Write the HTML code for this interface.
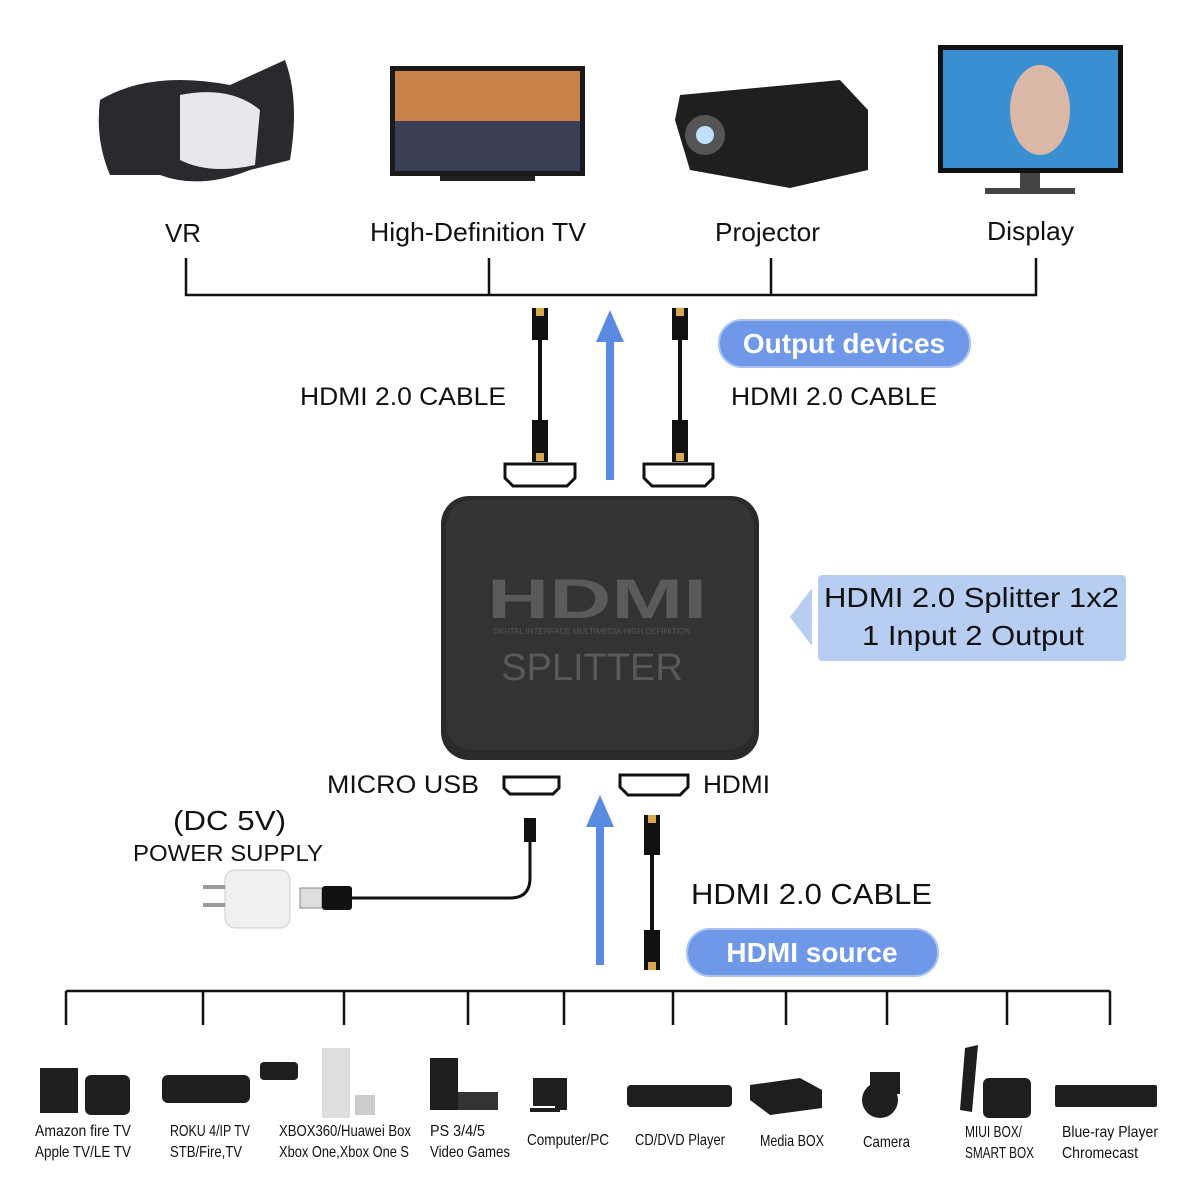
<!DOCTYPE html>
<html><head><meta charset="utf-8"><style>
html,body{margin:0;padding:0;background:#fff}
svg{display:block}
text{font-family:"Liberation Sans",sans-serif}
.c{font-family:"Liberation Sans",sans-serif;font-size:16px;fill:#111}
</style></head><body>
<svg width="1200" height="1200" viewBox="0 0 1200 1200" xmlns="http://www.w3.org/2000/svg">
<rect width="1200" height="1200" fill="#fff"/>
<g>
 <path d="M100 100 Q150 70 230 85 L285 60 Q300 100 290 160 L250 170 Q200 190 160 175 L110 175 Q95 140 100 100Z" fill="#2a2a2e"/>
 <path d="M180 95 Q230 85 260 110 L255 165 Q210 175 180 160Z" fill="#e8e8ec"/>
 <rect x="390" y="66" width="195" height="110" fill="#1a1a1a"/>
 <rect x="395" y="71" width="185" height="100" fill="#c9824a"/>
 <rect x="395" y="121" width="185" height="50" fill="#3b3f55"/>
 <rect x="440" y="176" width="95" height="5" fill="#222"/>
 <path d="M680 95 L840 80 L868 110 L868 170 L790 188 L690 170 L675 120Z" fill="#1f1f1f"/>
 <circle cx="705" cy="135" r="20" fill="#555"/><circle cx="705" cy="135" r="9" fill="#bfe0ff"/>
 <rect x="938" y="45" width="185" height="128" fill="#111"/>
 <rect x="943" y="50" width="175" height="118" fill="#3a8fd0"/>
 <ellipse cx="1040" cy="110" rx="30" ry="45" fill="#d9b8a8"/>
 <rect x="1020" y="173" width="20" height="15" fill="#444"/><rect x="985" y="188" width="90" height="6" fill="#444"/>
</g>
<g font-size="26" fill="#111">
 <text x="165" y="242" textLength="36" lengthAdjust="spacingAndGlyphs">VR</text>
 <text x="370" y="241" textLength="216" lengthAdjust="spacingAndGlyphs">High-Definition TV</text>
 <text x="715" y="241" textLength="105" lengthAdjust="spacingAndGlyphs">Projector</text>
 <text x="987" y="240" textLength="87" lengthAdjust="spacingAndGlyphs">Display</text>
</g>
<g stroke="#111" stroke-width="2.5" fill="none">
 <path d="M186 258 V295 H1036 V258 M489 258 V295 M771 258 V295"/>
 <path d="M66 991 H1110 M66 991 V1025 M203 991 V1025 M344 991 V1025 M468 991 V1025 M564 991 V1025 M673 991 V1025 M786 991 V1025 M887 991 V1025 M1007 991 V1025 M1110 991 V1025"/>
</g>
<g fill="#5b8be0">
 <rect x="606" y="340" width="8" height="140"/><path d="M596 342 L610 310 L624 342Z"/>
 <rect x="596" y="825" width="8" height="140"/><path d="M586 827 L600 795 L614 827Z"/>
</g>
<rect x="719" y="320" width="251" height="47" rx="23" fill="#6f98e8" stroke="#a9c2f2" stroke-width="2"/>
<text x="844" y="353" font-size="28" font-weight="bold" fill="#fff" text-anchor="middle">Output devices</text>
<rect x="687" y="929" width="251" height="47" rx="23" fill="#6f98e8" stroke="#a9c2f2" stroke-width="2"/>
<text x="812" y="962" font-size="28" font-weight="bold" fill="#fff" text-anchor="middle">HDMI source</text>
<path d="M790 617 L812 588 L812 646Z" fill="#b8cdf2"/>
<rect x="818" y="575" width="308" height="86" rx="4" fill="#b8cdf2"/>
<text x="824" y="607" font-size="28" fill="#111" textLength="295" lengthAdjust="spacingAndGlyphs">HDMI 2.0 Splitter 1x2</text>
<text x="862" y="645" font-size="28" fill="#111" textLength="222" lengthAdjust="spacingAndGlyphs">1 Input 2 Output</text>
<g font-size="25" fill="#111">
 <text x="300" y="405" textLength="206" lengthAdjust="spacingAndGlyphs">HDMI 2.0 CABLE</text>
 <text x="731" y="405" textLength="206" lengthAdjust="spacingAndGlyphs">HDMI 2.0 CABLE</text>
 <text x="691" y="904" font-size="29" textLength="241" lengthAdjust="spacingAndGlyphs">HDMI 2.0 CABLE</text>
 <text x="327" y="793" textLength="152" lengthAdjust="spacingAndGlyphs">MICRO USB</text>
 <text x="703" y="793" textLength="67" lengthAdjust="spacingAndGlyphs">HDMI</text>
 <text x="173" y="830" font-size="28" textLength="113" lengthAdjust="spacingAndGlyphs">(DC 5V)</text>
 <text x="133" y="861" font-size="23" textLength="190" lengthAdjust="spacingAndGlyphs">POWER SUPPLY</text>
</g>
<g>
 <rect x="532" y="308" width="16" height="32" fill="#111"/><rect x="536" y="308" width="8" height="8" fill="#d8a84a"/>
 <line x1="540" y1="340" x2="540" y2="420" stroke="#111" stroke-width="4"/>
 <rect x="532" y="420" width="16" height="42" fill="#111"/><rect x="536" y="453" width="8" height="8" fill="#d8a84a"/>
 <rect x="672" y="308" width="16" height="32" fill="#111"/><rect x="676" y="308" width="8" height="8" fill="#d8a84a"/>
 <line x1="680" y1="340" x2="680" y2="420" stroke="#111" stroke-width="4"/>
 <rect x="672" y="420" width="16" height="42" fill="#111"/><rect x="676" y="453" width="8" height="8" fill="#d8a84a"/>
 <rect x="644" y="815" width="16" height="40" fill="#111"/><rect x="648" y="815" width="8" height="8" fill="#d8a84a"/>
 <line x1="652" y1="855" x2="652" y2="930" stroke="#111" stroke-width="4"/>
 <rect x="644" y="930" width="16" height="40" fill="#111"/><rect x="648" y="962" width="8" height="8" fill="#d8a84a"/>
</g>
<g fill="#fff" stroke="#111" stroke-width="3">
 <path d="M505 464 H575 V478 L567 486 H513 L505 478Z"/>
 <path d="M644 464 H713 V478 L705 486 H652 L644 478Z"/>
 <path d="M504 777 H559 V788 L553 794 H510 L504 788Z"/>
 <path d="M620 775 H688 V787 L680 795 H628 L620 787Z"/>
</g>
<rect x="441" y="496" width="318" height="264" rx="28" fill="#2a2a2a"/>
<rect x="446" y="500" width="308" height="250" rx="26" fill="#333"/>
<text x="597" y="618" font-size="56" font-weight="bold" fill="#5a5a5a" text-anchor="middle" textLength="220" lengthAdjust="spacingAndGlyphs">HDMI</text>
<text x="592" y="634" font-size="8" fill="#555" text-anchor="middle">DIGITAL INTERFACE MULTIMEDIA HIGH DEFINITION</text>
<text x="592" y="680" font-size="38" fill="#595959" text-anchor="middle">SPLITTER</text>
<rect x="225" y="870" width="65" height="58" rx="10" fill="#f0f0f0" stroke="#ccc"/>
<rect x="203" y="885" width="22" height="4" fill="#999"/><rect x="203" y="903" width="22" height="4" fill="#999"/>
<rect x="300" y="888" width="22" height="20" fill="#ddd" stroke="#888"/>
<rect x="322" y="886" width="30" height="24" rx="3" fill="#111"/>
<path d="M352 898 H510 Q530 898 530 878 V840" stroke="#111" stroke-width="3" fill="none"/>
<rect x="524" y="818" width="12" height="24" fill="#111"/>
<g fill="#1e1e1e">
 <rect x="40" y="1068" width="38" height="45"/><rect x="85" y="1075" width="45" height="40" rx="6"/>
 <rect x="162" y="1075" width="88" height="28" rx="6"/><rect x="260" y="1062" width="38" height="18" rx="4"/>
 <rect x="322" y="1048" width="28" height="70" fill="#ddd"/><rect x="355" y="1095" width="20" height="20" fill="#ccc"/>
 <rect x="430" y="1058" width="28" height="52"/><rect x="458" y="1092" width="40" height="18" fill="#333"/>
 <rect x="533" y="1078" width="22" height="28"/><rect x="555" y="1078" width="12" height="32"/><rect x="530" y="1108" width="30" height="4"/>
 <rect x="627" y="1085" width="105" height="22" rx="4"/>
 <path d="M750 1085 L800 1078 L822 1090 L822 1108 L770 1115 L750 1100Z"/>
 <circle cx="880" cy="1100" r="18"/><rect x="870" y="1072" width="30" height="22"/>
 <path d="M965 1048 L978 1045 L972 1112 L960 1110Z"/><rect x="983" y="1078" width="48" height="40" rx="6"/>
 <rect x="1055" y="1085" width="102" height="22" rx="2"/>
</g>
<g class="c" lengthAdjust="spacingAndGlyphs">
 <text x="35" y="1136" textLength="96" lengthAdjust="spacingAndGlyphs">Amazon fire TV</text><text x="35" y="1157" textLength="96" lengthAdjust="spacingAndGlyphs">Apple TV/LE TV</text>
 <text x="170" y="1136" textLength="80" lengthAdjust="spacingAndGlyphs">ROKU 4/IP TV</text><text x="170" y="1157" textLength="72" lengthAdjust="spacingAndGlyphs">STB/Fire,TV</text>
 <text x="279" y="1136" textLength="132" lengthAdjust="spacingAndGlyphs">XBOX360/Huawei Box</text><text x="279" y="1157" textLength="130" lengthAdjust="spacingAndGlyphs">Xbox One,Xbox One S</text>
 <text x="430" y="1136" textLength="55" lengthAdjust="spacingAndGlyphs">PS 3/4/5</text><text x="430" y="1157" textLength="80" lengthAdjust="spacingAndGlyphs">Video Games</text>
 <text x="527" y="1145" textLength="82" lengthAdjust="spacingAndGlyphs">Computer/PC</text>
 <text x="635" y="1145" textLength="90" lengthAdjust="spacingAndGlyphs">CD/DVD Player</text>
 <text x="760" y="1146" textLength="64" lengthAdjust="spacingAndGlyphs">Media BOX</text>
 <text x="863" y="1147" textLength="47" lengthAdjust="spacingAndGlyphs">Camera</text>
 <text x="965" y="1137" textLength="57" lengthAdjust="spacingAndGlyphs">MIUI BOX/</text><text x="965" y="1158" textLength="69" lengthAdjust="spacingAndGlyphs">SMART BOX</text>
 <text x="1062" y="1137" textLength="96" lengthAdjust="spacingAndGlyphs">Blue-ray Player</text><text x="1062" y="1158" textLength="76" lengthAdjust="spacingAndGlyphs">Chromecast</text>
</g>
</svg>
</body></html>
